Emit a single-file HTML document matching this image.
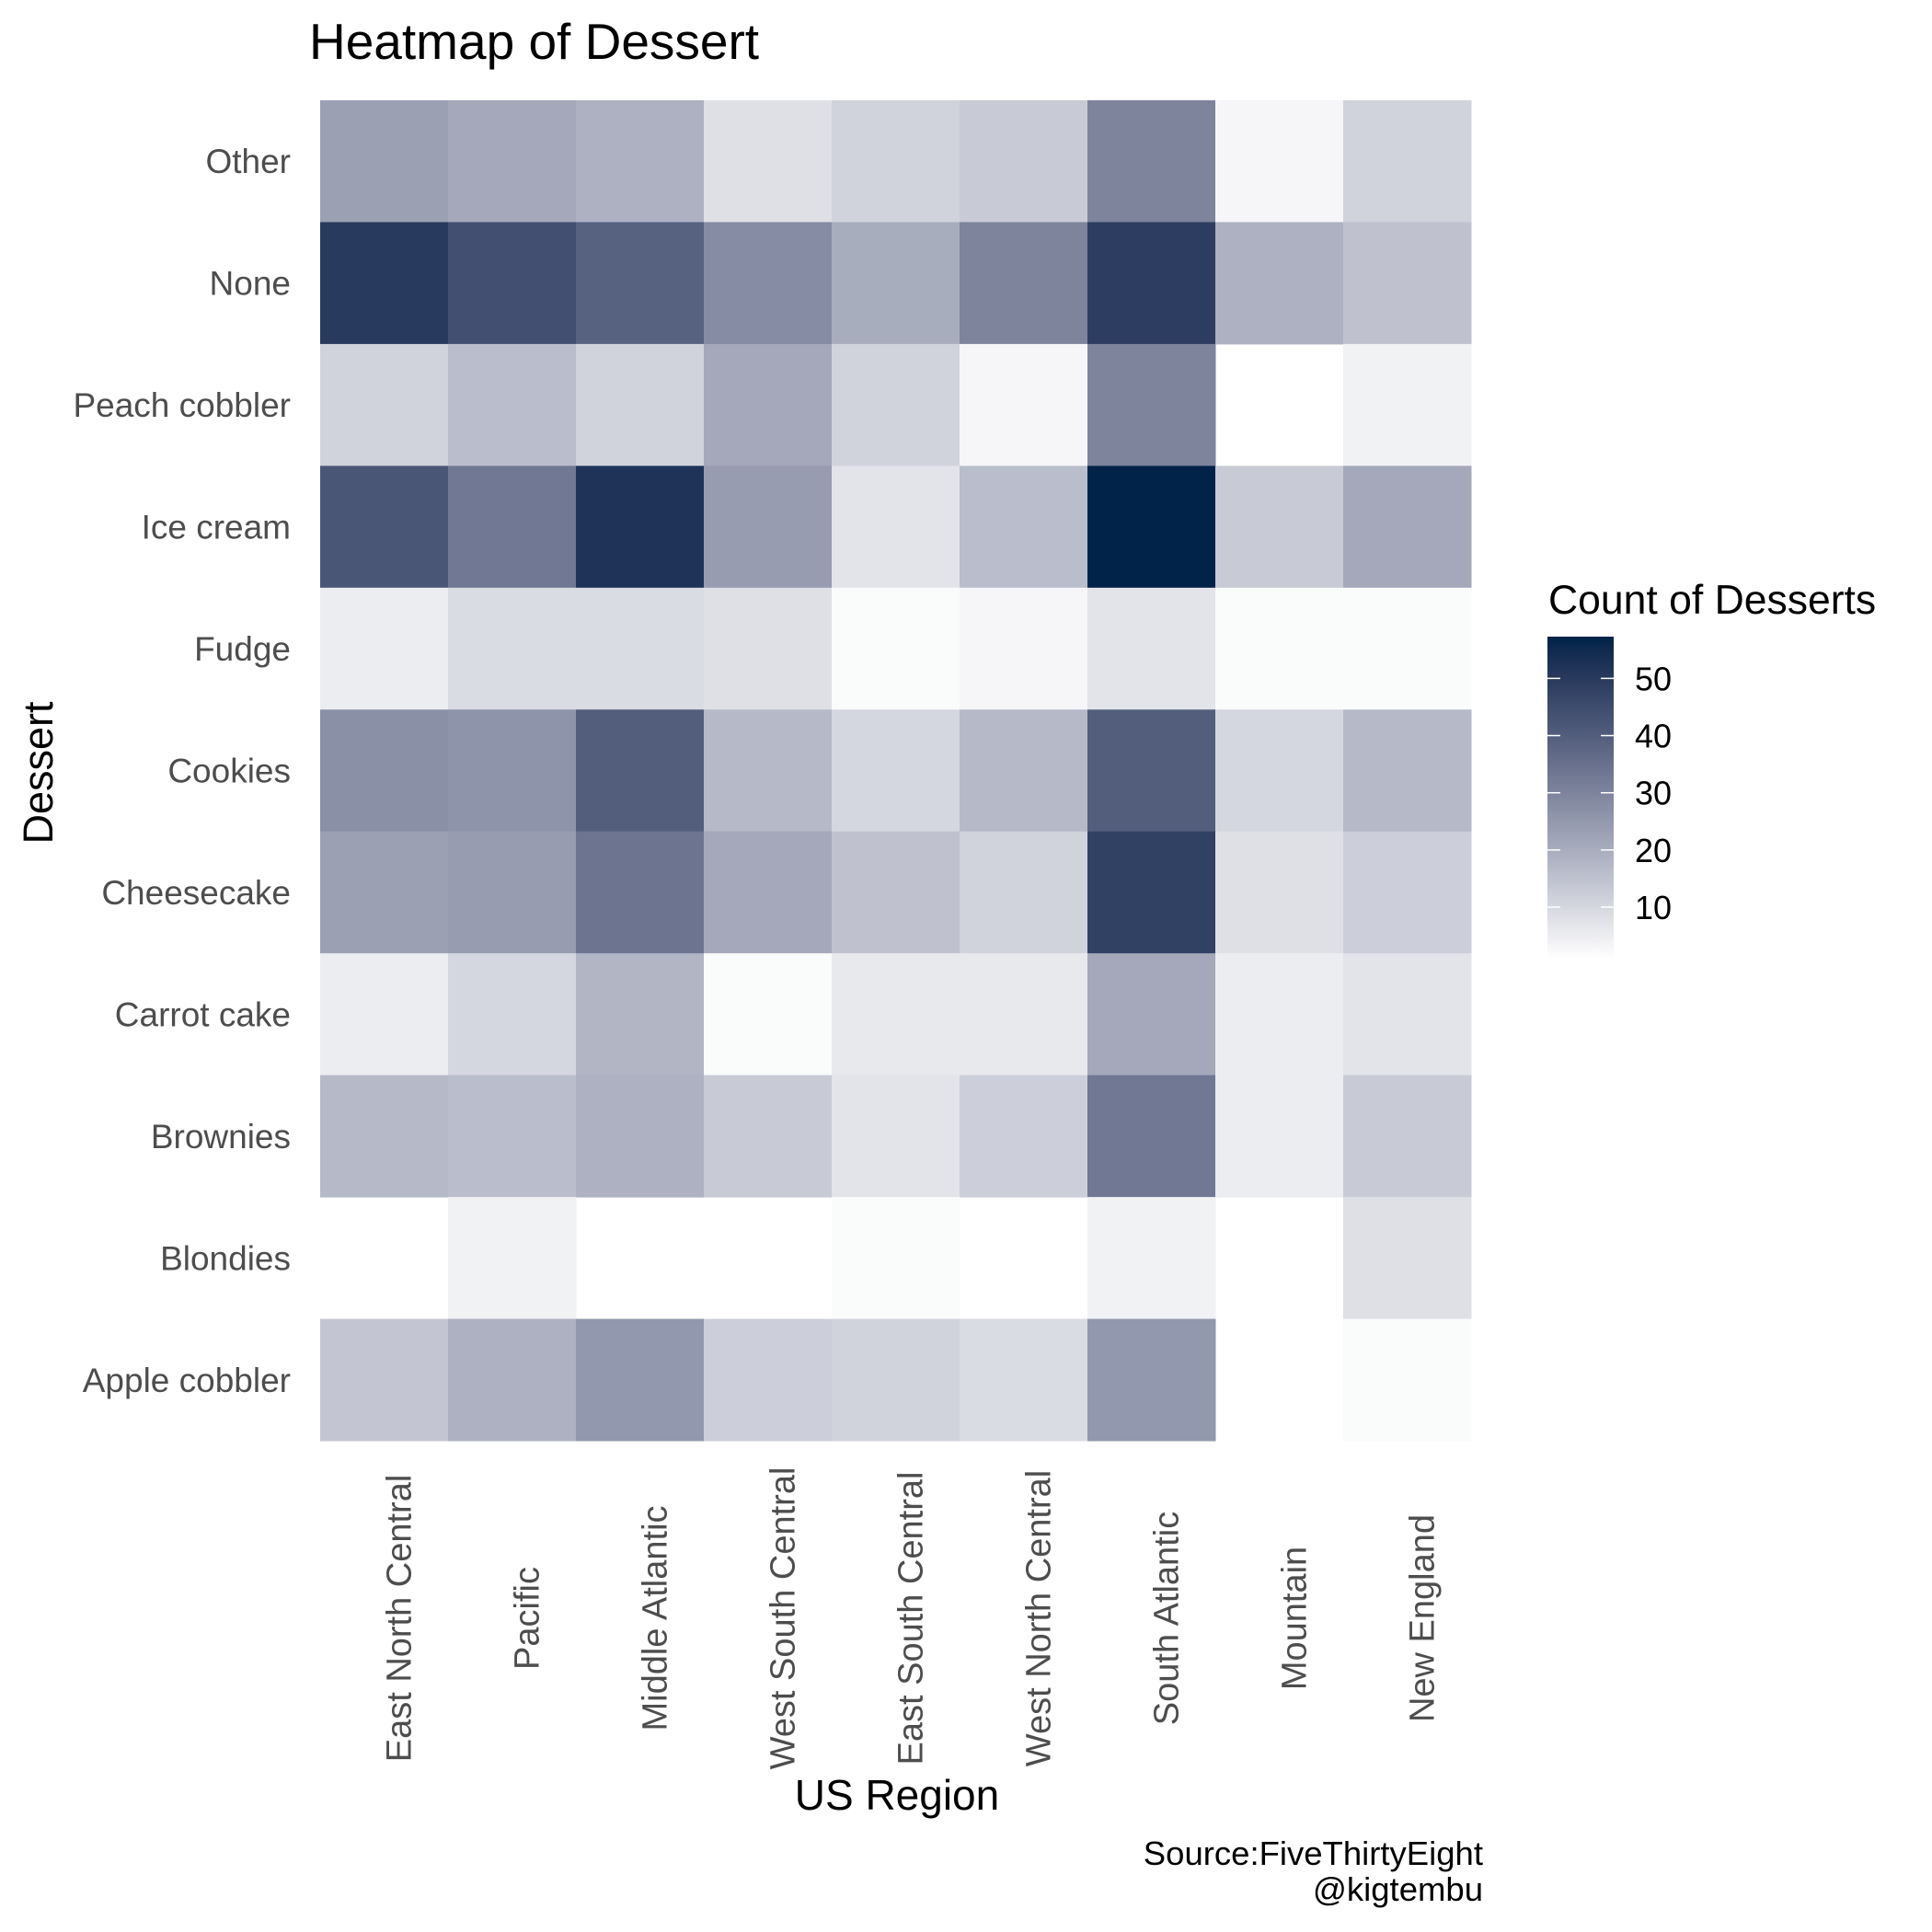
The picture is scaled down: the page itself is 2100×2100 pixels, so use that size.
<!DOCTYPE html>
<html><head><meta charset="utf-8"><style>
html,body{margin:0;padding:0;background:#fff;}
svg{display:block;font-family:"Liberation Sans",Arial,sans-serif;}
</style></head><body>
<svg id="chart" width="2100" height="2100" viewBox="0 0 2100 2100" xmlns="http://www.w3.org/2000/svg">
<rect width="2100" height="2100" fill="#fff"/>
<text x="336" y="64" font-size="55" fill="#000">Heatmap of Dessert</text>
<g id="cells"></g>
<g id="ylabels"></g>
<g id="xlabels"></g>
<text x="975" y="1967" font-size="46" text-anchor="middle" fill="#000">US Region</text>
<text transform="translate(57,840) rotate(-90)" font-size="45" text-anchor="middle" fill="#000">Dessert</text>
<text x="1683" y="667" font-size="44.5" fill="#000">Count of Desserts</text>
<defs><linearGradient id="lg" x1="0" y1="1" x2="0" y2="0"></linearGradient></defs>
<rect x="1682" y="692" width="72" height="350" fill="url(#lg)"/>
<g id="legendticks"></g>
<text x="1612" y="2027" font-size="36.5" text-anchor="end" fill="#000">Source:FiveThirtyEight</text>
<text x="1612" y="2066" font-size="36.5" text-anchor="end" fill="#000">@kigtembu</text>
</svg>
<script>
const regions = ["East North Central","Pacific","Middle Atlantic","West South Central","East South Central","West North Central","South Atlantic","Mountain","New England"];
const desserts = ["Other","None","Peach cobbler","Ice cream","Fudge","Cookies","Cheesecake","Carrot cake","Brownies","Blondies","Apple cobbler"];
const valOther = [23,21,19,8,11,13,30,3,11];
const valNone = [50,44,39,28,20,30,49,19,15];
const valPeach = [11,16,11,21,11,3,30,null,4];
const valIce = [42,33,52,24,7,16,57,13,21];
const valFudge = [5,9,9,8,2,3,7,2,2];
const valCookies = [27,26,40,17,10,17,40,10,17];
const valCheese = [23,24,34,21,15,11,48,8,12];
const valCarrot = [5,10,18,2,6,6,21,5,7];
const valBrownies = [17,16,19,13,7,12,33,5,13];
const valBlondies = [null,4,null,null,2,null,4,null,8];
const valApple = [14,19,25,12,11,9,25,null,2];
const values = [valOther,valNone,valPeach,valIce,valFudge,valCookies,valCheese,valCarrot,valBrownies,valBlondies,valApple];
const legendTicks = [10,20,30,40,50];
const vmin = 1, vmax = 57.3;

const NS = "http://www.w3.org/2000/svg";
const X0=348, X1=1599, Y0=109, Y1=1566;
const cw=(X1-X0)/regions.length, ch=(Y1-Y0)/desserts.length;
const xPos = i => X0 + i*cw;
const yPos = j => Y0 + j*ch;

function toLin(c){c/=255;return c<=0.04045?c/12.92:Math.pow((c+0.055)/1.055,2.4);}
function fromLin(c){c=c<=0.0031308?12.92*c:1.055*Math.pow(c,1/2.4)-0.055;return Math.max(0,Math.min(255,Math.round(c*255)));}
function rgb2lab(r,g,b){r=toLin(r);g=toLin(g);b=toLin(b);
 let x=(r*0.4124+g*0.3576+b*0.1805)/0.95047,y=r*0.2126+g*0.7152+b*0.0722,z=(r*0.0193+g*0.1192+b*0.9505)/1.08883;
 const f=t=>t>0.008856?Math.cbrt(t):7.787*t+16/116;x=f(x);y=f(y);z=f(z);
 return [116*y-16,500*(x-y),200*(y-z)];}
function lab2rgb(L,a,bb){let y=(L+16)/116,x=a/500+y,z=y-bb/200;
 const f=t=>t*t*t>0.008856?t*t*t:(t-16/116)/7.787;x=f(x)*0.95047;y=f(y);z=f(z)*1.08883;
 const r=x*3.2406+y*-1.5372+z*-0.4986,g=x*-0.9689+y*1.8758+z*0.0415,b=x*0.0557+y*-0.2040+z*1.0570;
 return "rgb("+fromLin(r)+","+fromLin(g)+","+fromLin(b)+")";}
const lo=rgb2lab(255,255,255), hi=rgb2lab(0,34,72);
function color(v){let t=(v-vmin)/(vmax-vmin);t=Math.max(0,Math.min(1,t));
 return lab2rgb(lo[0]+(hi[0]-lo[0])*t,lo[1]+(hi[1]-lo[1])*t,lo[2]+(hi[2]-lo[2])*t);}

const cells=document.getElementById("cells");
values.forEach((row,j)=>row.forEach((v,i)=>{
 if(v===null) return;
 const r=document.createElementNS(NS,"rect");
 r.setAttribute("x",xPos(i));r.setAttribute("y",yPos(j));
 r.setAttribute("width",cw+0.5);r.setAttribute("height",ch+0.5);
 r.setAttribute("fill",color(v));
 
 
 cells.appendChild(r);
}));

const yl=document.getElementById("ylabels");
desserts.forEach((d,j)=>{
 const t=document.createElementNS(NS,"text");
 t.setAttribute("x",316);t.setAttribute("y",yPos(j)+ch/2+13);
 t.setAttribute("text-anchor","end");t.setAttribute("font-size","37");t.setAttribute("fill","#4d4d4d");
 t.textContent=d;
 
 
 yl.appendChild(t);
});
const xl=document.getElementById("xlabels");
regions.forEach((r,i)=>{
 const t=document.createElementNS(NS,"text");
 const cx=xPos(i)+cw/2+29;
 t.setAttribute("transform","translate("+cx+",1759) rotate(-90)");
 t.setAttribute("text-anchor","middle");t.setAttribute("font-size","38");t.setAttribute("fill","#4d4d4d");
 t.textContent=r;
 
 
 xl.appendChild(t);
});

const lg=document.getElementById("lg");
for(let k=0;k<=20;k++){
 const s=document.createElementNS(NS,"stop");
 s.setAttribute("offset",k/20);
 s.setAttribute("stop-color",color(vmin+(vmax-vmin)*k/20));
 lg.appendChild(s);
}
const LB0=1042, LB1=692;
const ly = v => LB0 - (v-vmin)/(vmax-vmin)*(LB0-LB1);
const lt=document.getElementById("legendticks");
legendTicks.forEach(v=>{
 [[1682,1696],[1740,1754]].forEach(p=>{
  const l=document.createElementNS(NS,"line");
  l.setAttribute("x1",p[0]);l.setAttribute("x2",p[1]);l.setAttribute("y1",ly(v));l.setAttribute("y2",ly(v));
  l.setAttribute("stroke","#fff");l.setAttribute("stroke-width","1.5");
  
  
  lt.appendChild(l);
 });
 const t=document.createElementNS(NS,"text");
 t.setAttribute("x",1777);t.setAttribute("y",ly(v)+13);t.setAttribute("font-size","36");t.setAttribute("fill","#000");
 t.textContent=v;
 
 
 lt.appendChild(t);
});
</script>
</body></html>
